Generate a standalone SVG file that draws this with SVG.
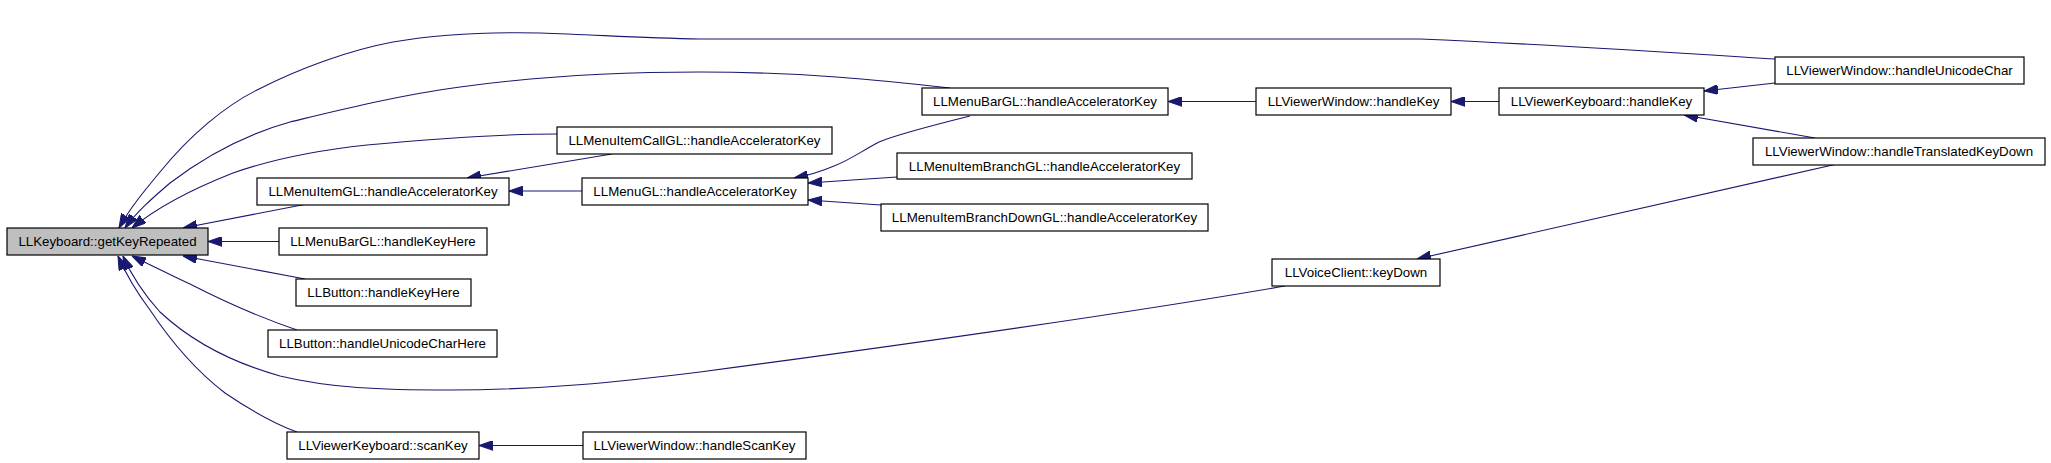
<svg xmlns="http://www.w3.org/2000/svg" width="2051" height="463" viewBox="0 0 2051 463">
<style>
.n rect{fill:#fff;stroke:#000;stroke-width:1.2}
.n.root rect{fill:#bfbfbf}
.n text{font-family:"Liberation Sans",Arial,sans-serif;font-size:13.3px;fill:#000;text-anchor:middle}
.e path{fill:none;stroke:#191970;stroke-width:1.1;marker-end:url(#ah)}
</style>
<defs>
<marker id="ah" markerUnits="userSpaceOnUse" markerWidth="14" markerHeight="10" viewBox="0 0 13 9" refX="13" refY="4.5" orient="auto">
<path d="M0,0 L13,4.5 L0,9 z" fill="#191970" stroke="#191970" stroke-width="1"/>
</marker>
</defs>
<rect width="2051" height="463" fill="#fff"/>
<g id="edges" class="e">
<path d="M1775,59 C1680,53 1560,45 1420,39 L700,39 C640,38 600,35 540,33 C490,32 440,34 393,42 C350,50 300,68 257,90 C225,106 190,135 160,172 C145,190 130,208 119,228"/>
<path d="M950,88 C880,80 800,72 700,72 C620,72 540,76 460,87 C400,95 340,110 290,122 C240,136 200,160 170,183 C155,196 138,210 125,228"/>
<path d="M557,134 C490,134 420,140 367,145 C320,150 270,160 233,173 C200,186 160,205 132,228"/>
<path d="M307,204 L183,228"/>
<path d="M279,241.5 L208,241.5"/>
<path d="M305,279 L183,256"/>
<path d="M297,330 C262,318 225,302 190,284 C165,272 148,264 132,256"/>
<path d="M1285,286 C1100,318 850,352 700,372 C620,382 540,390 450,390 C380,390 330,388 280,376 C230,362 190,340 160,312 C140,290 130,272 123,256"/>
<path d="M297,432 C275,424 250,410 225,393 C195,370 170,340 150,310 C135,290 125,272 118,256"/>
<path d="M612,154 L467,178"/>
<path d="M582,191 L509,191"/>
<path d="M970,116 C930,126 895,135 879,142 C860,152 850,160 834,166 C820,172 805,176 794,178"/>
<path d="M897,177 L808,183"/>
<path d="M881,205 L808,200"/>
<path d="M1256,101.5 L1168,101.5"/>
<path d="M1499,101.5 L1451,101.5"/>
<path d="M1775,83 L1704,91"/>
<path d="M1815,138 L1684,115"/>
<path d="M1837,164 L1417,259"/>
<path d="M583,445.5 L479,445.5"/>
</g>
<g id="n_getKeyRepeated" class="n root"><rect x="7" y="228" width="201" height="27"/><text x="107.5" y="246.2">LLKeyboard::getKeyRepeated</text></g>
<g id="n_menuItemAccel" class="n"><rect x="257" y="178" width="252" height="27"/><text x="383" y="196.2">LLMenuItemGL::handleAcceleratorKey</text></g>
<g id="n_menuBarKeyHere" class="n"><rect x="279" y="228" width="208" height="27"/><text x="383" y="246.2">LLMenuBarGL::handleKeyHere</text></g>
<g id="n_buttonKeyHere" class="n"><rect x="296" y="279" width="175" height="27"/><text x="383.5" y="297.2">LLButton::handleKeyHere</text></g>
<g id="n_buttonUnicode" class="n"><rect x="268" y="330" width="229" height="27"/><text x="382.5" y="348.2">LLButton::handleUnicodeCharHere</text></g>
<g id="n_scanKey" class="n"><rect x="287" y="432" width="192" height="27"/><text x="383" y="450.2">LLViewerKeyboard::scanKey</text></g>
<g id="n_menuItemCall" class="n"><rect x="557" y="127" width="275" height="27"/><text x="694.5" y="145.2">LLMenuItemCallGL::handleAcceleratorKey</text></g>
<g id="n_menuAccel" class="n"><rect x="582" y="178" width="226" height="27"/><text x="695" y="196.2">LLMenuGL::handleAcceleratorKey</text></g>
<g id="n_handleScanKey" class="n"><rect x="583" y="432" width="223" height="27"/><text x="694.5" y="450.2">LLViewerWindow::handleScanKey</text></g>
<g id="n_menuBarAccel" class="n"><rect x="922" y="88" width="246" height="27"/><text x="1045" y="106.2">LLMenuBarGL::handleAcceleratorKey</text></g>
<g id="n_branchAccel" class="n"><rect x="897" y="153" width="295" height="26"/><text x="1044.5" y="170.7">LLMenuItemBranchGL::handleAcceleratorKey</text></g>
<g id="n_branchDownAccel" class="n"><rect x="881" y="204" width="327" height="27"/><text x="1044.5" y="222.2">LLMenuItemBranchDownGL::handleAcceleratorKey</text></g>
<g id="n_voiceKeyDown" class="n"><rect x="1272" y="259" width="168" height="27"/><text x="1356" y="277.2">LLVoiceClient::keyDown</text></g>
<g id="n_windowHandleKey" class="n"><rect x="1256" y="88" width="195" height="27"/><text x="1353.5" y="106.2">LLViewerWindow::handleKey</text></g>
<g id="n_keyboardHandleKey" class="n"><rect x="1499" y="88" width="205" height="27"/><text x="1601.5" y="106.2">LLViewerKeyboard::handleKey</text></g>
<g id="n_unicodeChar" class="n"><rect x="1775" y="57" width="249" height="27"/><text x="1899.5" y="75.2">LLViewerWindow::handleUnicodeChar</text></g>
<g id="n_translatedKeyDown" class="n"><rect x="1753" y="138" width="292" height="27"/><text x="1899" y="156.2">LLViewerWindow::handleTranslatedKeyDown</text></g>
</svg>
